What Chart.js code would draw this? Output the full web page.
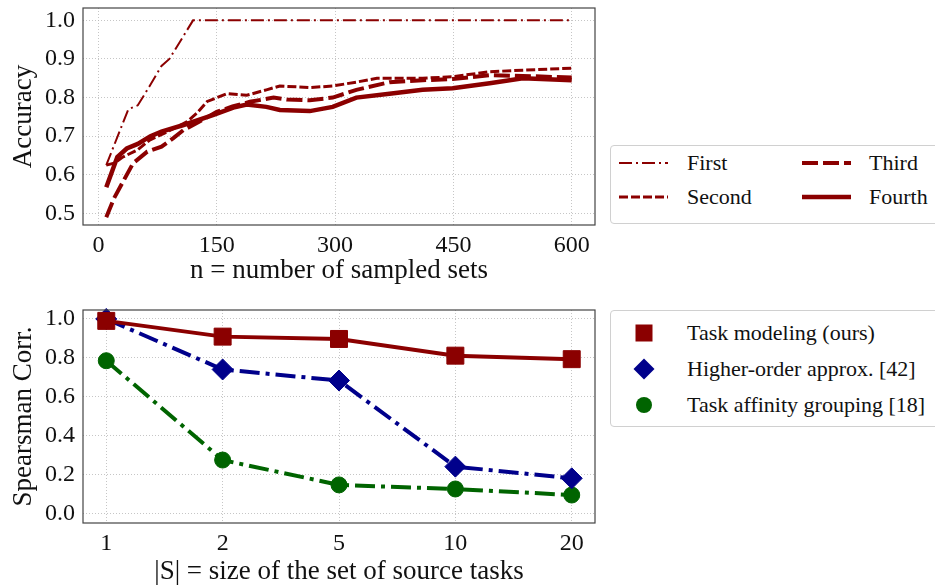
<!DOCTYPE html>
<html>
<head>
<meta charset="utf-8">
<script src="https://cdn.jsdelivr.net/npm/chart.js@4.4.1/dist/chart.umd.min.js"></script>
<style>
  body { margin: 0; background: #fff; width: 935px; height: 588px; overflow: hidden; position: relative; font-family: "Times New Roman", "Liberation Serif", "DejaVu Serif", serif; }
  #topWrap { position: absolute; left: 0; top: 0; width: 600px; height: 290px; }
  #botWrap { position: absolute; left: 0; top: 290px; width: 600px; height: 298px; }
  .legend { position: absolute; border: 1px solid #d0d0d0; border-radius: 4px; background: #fff; font-size: 22px; color: #111; }
  .legend .item { position: absolute; white-space: nowrap; }
  .legend .lbl { position: absolute; line-height: 24px; }
</style>
</head>
<body>
<div id="topWrap"><canvas id="accChart" width="600" height="290"></canvas></div>
<div id="botWrap"><canvas id="corrChart" width="600" height="298"></canvas></div>
<div class="legend" id="legTop" style="left:610px; top:145px; width:340px; height:77px;"></div>
<div class="legend" id="legBot" style="left:610px; top:310px; width:340px; height:115px;"></div>
<script>
  // --- Dados do gráfico de cima (acurácia x número de conjuntos) ---
  const nFirst = [10, 38, 50, 65, 80, 90, 120, 150, 200, 300, 400, 500, 600];
  const accFirst = [0.625, 0.77, 0.78, 0.83, 0.882, 0.90, 1.0, 1.0, 1.0, 1.0, 1.0, 1.0, 1.0];

  const nSecond = [10, 20, 30, 50, 65, 87, 112, 125, 138, 163, 188, 213, 230, 268, 297, 327, 353, 411, 449, 496, 538, 600];
  const accSecond = [0.625, 0.63, 0.645, 0.665, 0.69, 0.711, 0.737, 0.76, 0.79, 0.81, 0.806, 0.82, 0.83, 0.826, 0.83, 0.84, 0.85, 0.85, 0.854, 0.867, 0.871, 0.876];

  const nThird = [10, 20, 32, 44, 62, 80, 95, 108, 130, 150, 170, 192, 222, 239, 268, 297, 327, 369, 411, 449, 496, 538, 600];
  const accThird = [0.49, 0.54, 0.585, 0.63, 0.66, 0.673, 0.695, 0.716, 0.74, 0.763, 0.777, 0.789, 0.80, 0.795, 0.793, 0.80, 0.82, 0.84, 0.845, 0.848, 0.858, 0.856, 0.852];

  const nFourth = [10, 24, 36, 50, 66, 80, 108, 146, 171, 188, 213, 230, 268, 297, 327, 369, 411, 449, 496, 538, 600];
  const accFourth = [0.568, 0.646, 0.668, 0.68, 0.70, 0.712, 0.729, 0.755, 0.774, 0.782, 0.776, 0.768, 0.765, 0.776, 0.80, 0.81, 0.82, 0.824, 0.837, 0.85, 0.845];

  const accTicks = [0.5, 0.6, 0.7, 0.8, 0.9, 1.0];
  const nTicks = [0, 150, 300, 450, 600];

  // --- Dados do gráfico de baixo (correlação x tamanho do conjunto) ---
  const sizeLabels = ['1', '2', '5', '10', '20'];
  const corrTaskModeling = [0.99, 0.909, 0.897, 0.811, 0.793];
  const corrHigherOrder = [1.0, 0.74, 0.683, 0.24, 0.18];
  const corrAffinity = [0.785, 0.274, 0.146, 0.125, 0.094];
  const corrTicks = [0.0, 0.2, 0.4, 0.6, 0.8, 1.0];

  const vermelho = '#8b0000';
  const azul = '#00008b';
  const verde = '#006400';
  const familia = '"Times New Roman", "Liberation Serif", "DejaVu Serif", serif';
  const fonteTick = { family: familia, size: 24 };
  const fonteTitulo = { family: familia, size: 27 };

  function pares(xs, ys) {
    return xs.map((x, i) => ({ x: x, y: ys[i] }));
  }

  // Plugin que desenha a moldura dos eixos (como no matplotlib)
  const moldura = {
    id: 'moldura',
    afterDatasetsDraw(chart) {
      const a = chart.chartArea;
      const ctx = chart.ctx;
      ctx.save();
      ctx.strokeStyle = '#444';
      ctx.lineWidth = 1.2;
      ctx.strokeRect(a.left, a.top, a.right - a.left, a.bottom - a.top);
      ctx.restore();
    }
  };

  // tamanho fixo dos eixos, sem o padding automático dos rótulos
  function fixaY(s) { s.width = 83; s.paddingTop = 0; s.paddingBottom = 0; }
  function fixaX(h) { return s => { s.height = h; s.paddingLeft = 0; s.paddingRight = 0; }; }

  function eixoComum(extra) {
    return Object.assign({
      grid: { color: '#b8b8b8', lineWidth: 0.8, drawTicks: false },
      border: { display: false, dash: [1, 2] },
      ticks: { color: '#111', font: fonteTick, padding: 6 }
    }, extra);
  }

  Chart.defaults.animation = false;

  // Gráfico de cima
  new Chart(document.getElementById('accChart'), {
    type: 'line',
    data: {
      datasets: [
        { label: 'First', data: pares(nFirst, accFirst), borderColor: vermelho, borderWidth: 2, borderDash: [13, 4, 2, 4], pointRadius: 0, tension: 0 },
        { label: 'Second', data: pares(nSecond, accSecond), borderColor: vermelho, borderWidth: 3, borderDash: [9, 3], pointRadius: 0, tension: 0 },
        { label: 'Third', data: pares(nThird, accThird), borderColor: vermelho, borderWidth: 4, borderDash: [16, 5], pointRadius: 0, tension: 0 },
        { label: 'Fourth', data: pares(nFourth, accFourth), borderColor: vermelho, borderWidth: 4.5, pointRadius: 0, tension: 0 }
      ]
    },
    options: {
      responsive: false,
      devicePixelRatio: 1,
      layout: { autoPadding: false, padding: { left: 0, right: 5, top: 8, bottom: 3 } },
      plugins: { legend: { display: false }, tooltip: { enabled: false } },
      scales: {
        x: eixoComum({
          type: 'linear', min: -19.5, max: 629.5,
          afterBuildTicks: s => { s.ticks = nTicks.map(v => ({ value: v })); },
          afterFit: fixaX(62),
          title: { display: true, text: 'n = number of sampled sets', color: '#111', font: fonteTitulo, padding: { top: 0, bottom: 0 } }
        }),
        y: eixoComum({
          type: 'linear', min: 0.47, max: 1.032,
          afterBuildTicks: s => { s.ticks = accTicks.map(v => ({ value: v })); },
          afterFit: fixaY,
          ticks: { color: '#111', font: fonteTick, padding: 8, callback: v => v.toFixed(1) },
          title: { display: true, text: 'Accuracy', color: '#111', font: fonteTitulo, padding: { top: 8, bottom: 0 } }
        })
      }
    },
    plugins: [moldura]
  });

  // Gráfico de baixo
  new Chart(document.getElementById('corrChart'), {
    type: 'line',
    data: {
      datasets: [
        { label: 'Task modeling (ours)', data: corrTaskModeling.map((v, i) => ({ x: i, y: v })), borderColor: vermelho, backgroundColor: vermelho, borderWidth: 4, pointStyle: 'rect', pointRadius: 12, pointBorderWidth: 1, tension: 0, clip: false },
        { label: 'Higher-order approx. [42]', data: corrHigherOrder.map((v, i) => ({ x: i, y: v })), borderColor: azul, backgroundColor: azul, borderWidth: 4, borderDash: [20, 6, 4, 6], pointStyle: 'rectRot', pointRadius: 10.5, pointBorderWidth: 1, tension: 0, clip: false },
        { label: 'Task affinity grouping [18]', data: corrAffinity.map((v, i) => ({ x: i, y: v })), borderColor: verde, backgroundColor: verde, borderWidth: 4, borderDash: [20, 6, 4, 6], pointStyle: 'circle', pointRadius: 8, pointBorderWidth: 1, tension: 0, clip: false }
      ]
    },
    options: {
      responsive: false,
      devicePixelRatio: 1,
      layout: { autoPadding: false, padding: { left: 0, right: 5, top: 20, bottom: 0 } },
      plugins: { legend: { display: false }, tooltip: { enabled: false } },
      scales: {
        x: eixoComum({
          type: 'linear', min: -0.2, max: 4.2,
          afterBuildTicks: s => { s.ticks = sizeLabels.map((l, i) => ({ value: i })); },
          afterFit: fixaX(65),
          ticks: { color: '#111', font: fonteTick, padding: 6, callback: v => sizeLabels[v] },
          title: { display: true, text: '|S| = size of the set of source tasks', color: '#111', font: fonteTitulo, padding: { top: 0, bottom: 0 } }
        }),
        y: eixoComum({
          type: 'linear', min: -0.05, max: 1.046,
          afterBuildTicks: s => { s.ticks = corrTicks.map(v => ({ value: v })); },
          afterFit: fixaY,
          ticks: { color: '#111', font: fonteTick, padding: 8, callback: v => v.toFixed(1) },
          title: { display: true, text: 'Spearsman Corr.', color: '#111', font: fonteTitulo, padding: { top: 8, bottom: 0 } }
        })
      }
    },
    plugins: [moldura]
  });

  // Legendas em HTML com amostras em SVG
  function amostraLinha(largura, dash) {
    const d = dash ? `stroke-dasharray="${dash.join(',')}"` : '';
    return `<svg width="50" height="10" style="position:absolute;left:0;top:0"><line x1="0" y1="5" x2="49" y2="5" stroke="${vermelho}" stroke-width="${largura}" ${d}/></svg>`;
  }
  const legTop = document.getElementById('legTop');
  const itensTop = [
    { t: 'First', x: 8, y: 17, w: 2, d: [13, 4, 2, 4] },
    { t: 'Second', x: 8, y: 51, w: 3, d: [9, 3] },
    { t: 'Third', x: 191, y: 17, w: 4, d: [16, 5] },
    { t: 'Fourth', x: 191, y: 51, w: 4.5, d: null }
  ];
  itensTop.forEach(it => {
    const el = document.createElement('div');
    el.className = 'item';
    el.style.left = it.x + 'px';
    el.style.top = (it.y - 5) + 'px';
    el.innerHTML = amostraLinha(it.w, it.d) + `<span class="lbl" style="left:${it.x === 8 ? 68 : 67}px; top:-7px">${it.t}</span>`;
    legTop.appendChild(el);
  });

  const legBot = document.getElementById('legBot');
  const marcadores = [
    { t: 'Task modeling (ours)', y: 22, svg: `<rect x="3.5" y="3.5" width="17" height="17" fill="${vermelho}"/>` },
    { t: 'Higher-order approx. [42]', y: 58, svg: `<polygon points="12,1.5 22.5,12 12,22.5 1.5,12" fill="${azul}"/>` },
    { t: 'Task affinity grouping [18]', y: 94, svg: `<circle cx="12" cy="12" r="8" fill="${verde}"/>` }
  ];
  marcadores.forEach(m => {
    const el = document.createElement('div');
    el.className = 'item';
    el.style.left = '21px';
    el.style.top = (m.y - 12) + 'px';
    el.innerHTML = `<svg width="24" height="24" style="position:absolute;left:0;top:0">${m.svg}</svg><span class="lbl" style="left:55px; top:0px">${m.t}</span>`;
    legBot.appendChild(el);
  });
</script>
</body>
</html>
